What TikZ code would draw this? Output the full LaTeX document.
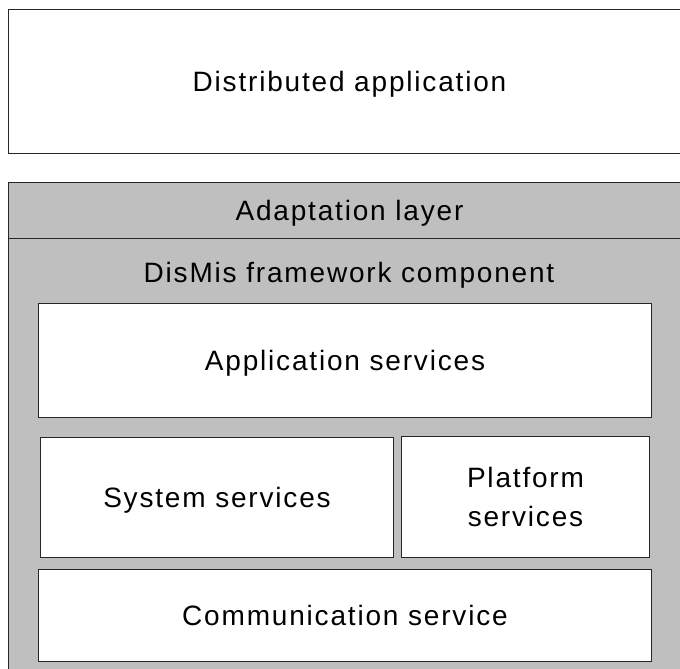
\documentclass[tikz,border=0pt]{standalone}
\usepackage{fontspec}
\setmainfont{Liberation Sans}[LetterSpace=6.5]
\begin{document}
\begin{tikzpicture}[x=1pt,y=-1pt,
  layer/.style={draw=black!85, line width=1pt, inner sep=0pt, anchor=north west,
    font=\fontsize{28}{39}\selectfont, align=center, text height=20pt, text depth=0pt},
  part/.style={layer, fill=white},
  band/.style={layer, fill=black!25}]
\useasboundingbox (0,0) rectangle (680,669);
\begin{scope}
\clip (0,0) rectangle (680,669);
% application on top
\node[part, minimum width=682pt, minimum height=144pt] (dapp) at (8,9) {Distributed application};
% middleware stack
\node[band, minimum width=682pt, minimum height=56pt] (adapt) at (8,182) {Adaptation layer};
\node[band, minimum width=682pt, minimum height=440pt, anchor=north west] (frame) at (8,238) {};
\node[inner sep=0pt, font=\fontsize{28}{39}\selectfont, text height=20pt, text depth=0pt] (ftitle) at (349,272) {DisMis framework component};
\node[part, minimum width=613pt, minimum height=114pt] (appsvc) at (38,303) {Application services};
\node[part, minimum width=353pt, minimum height=120pt] (syssvc) at (40,437) {System services};
\node[part, minimum width=248pt, minimum height=121pt, text height=, text depth=] (platsvc) at (401,436) {Platform\\services};
\node[part, minimum width=613pt, minimum height=92pt] (comm) at (38,569) {Communication service};
\end{scope}
\end{tikzpicture}
\end{document}
